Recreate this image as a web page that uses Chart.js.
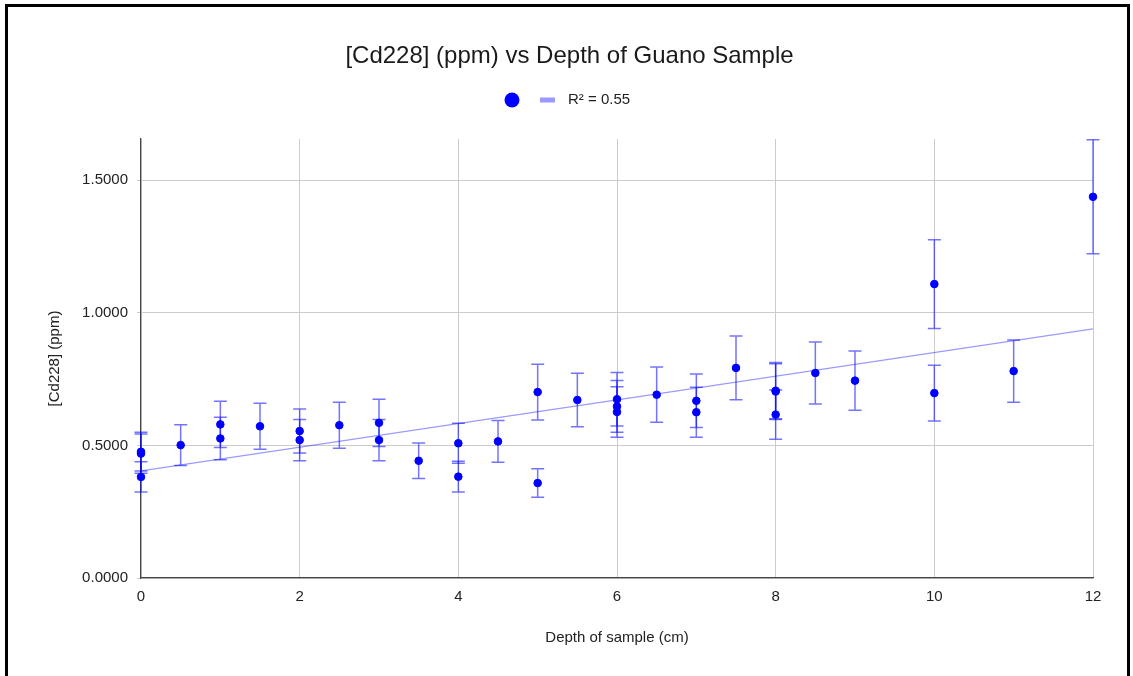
<!DOCTYPE html>
<html>
<head>
<meta charset="utf-8">
<script src="https://cdn.jsdelivr.net/npm/chart.js@4/dist/chart.umd.min.js"></script>
<style>
  body { margin: 0; background: #fff; }
  #marco { position: absolute; left: 5px; top: 4px; width: 1125px; height: 700px; border: 3px solid #000; box-sizing: border-box; }
  #grafico { position: absolute; left: 0; top: 0; }
</style>
</head>
<body>
<div id="marco"></div>
<canvas id="grafico" width="1133" height="676"></canvas>
<script>
// datos
const profundidad = [0, 0, 0, 0.5, 1, 1, 1.5, 2, 2, 2.5, 3, 3, 3.5, 4, 4, 4.5, 5, 5, 5.5, 6, 6, 6, 6.5, 7, 7, 7.5, 8, 8, 8, 8.5, 9, 10, 10, 11, 12];
const cadmio = [0.476, 0.469, 0.381, 0.501, 0.579, 0.526, 0.572, 0.554, 0.520, 0.576, 0.585, 0.520, 0.442, 0.508, 0.382, 0.515, 0.701, 0.358, 0.671, 0.674, 0.647, 0.626, 0.691, 0.668, 0.625, 0.792, 0.706, 0.703, 0.616, 0.773, 0.744, 1.108, 0.697, 0.780, 1.437];
const errores = [0.073, 0.074, 0.057, 0.077, 0.087, 0.080, 0.087, 0.083, 0.078, 0.087, 0.089, 0.078, 0.067, 0.075, 0.058, 0.079, 0.105, 0.054, 0.101, 0.101, 0.098, 0.095, 0.104, 0.101, 0.094, 0.120, 0.106, 0.105, 0.093, 0.117, 0.112, 0.167, 0.105, 0.117, 0.215];

// linea de tendencia (extremos)
const tendenciaX = [0, 12];
const tendenciaY = [0.404, 0.939];
const etiquetaR2 = "R² = 0.55";

const ticksY = [0, 0.5, 1.0, 1.5];

const fuente = "'Liberation Sans', Arial, sans-serif";
const azul = "#0000ff";
const azulClaro = "rgba(0,0,255,0.4)";

// barras de error
const barrasError = {
    id: "barrasError",
    beforeDatasetsDraw(chart) {
        const { ctx, scales: { x, y } } = chart;
        ctx.save();
        ctx.strokeStyle = "rgba(0,0,255,0.55)";
        ctx.lineWidth = 1.5;
        for (let i = 0; i < profundidad.length; i++) {
            const px = x.getPixelForValue(profundidad[i]);
            const arriba = y.getPixelForValue(cadmio[i] + errores[i]);
            const abajo = y.getPixelForValue(cadmio[i] - errores[i]);
            ctx.beginPath();
            ctx.moveTo(px, arriba); ctx.lineTo(px, abajo);
            ctx.moveTo(px - 6.5, arriba); ctx.lineTo(px + 6.5, arriba);
            ctx.moveTo(px - 6.5, abajo); ctx.lineTo(px + 6.5, abajo);
            ctx.stroke();
        }
        ctx.restore();
    }
};

// leyenda simple como en Sheets
const leyenda = {
    id: "leyenda",
    afterDraw(chart) {
        const ctx = chart.ctx;
        ctx.save();
        ctx.fillStyle = azul;
        ctx.beginPath();
        ctx.arc(512, 100, 7.5, 0, Math.PI * 2);
        ctx.fill();
        ctx.fillStyle = "rgba(0,0,255,0.4)";
        ctx.fillRect(540, 97.5, 15, 5);
        ctx.fillStyle = "#222";
        ctx.font = "15px " + fuente;
        ctx.textBaseline = "middle";
        ctx.fillText(etiquetaR2, 568, 100);
        ctx.restore();
    }
};

const grafico = new Chart(document.getElementById("grafico").getContext("2d"), {
    type: "scatter",
    data: {
        datasets: [
            {
                label: "",
                data: profundidad.map((p, i) => ({ x: p, y: cadmio[i] })),
                backgroundColor: azul,
                borderColor: azul,
                pointRadius: 3.8,
                pointHoverRadius: 3.8,
                clip: false
            },
            {
                type: "line",
                label: etiquetaR2,
                data: tendenciaX.map((p, i) => ({ x: p, y: tendenciaY[i] })),
                borderColor: azulClaro,
                borderWidth: 1.2,
                pointRadius: 0,
                fill: false
            }
        ]
    },
    options: {
        responsive: false,
        animation: false,
        layout: { padding: { left: 46, right: 40, top: 0, bottom: 29 } },
        plugins: {
            legend: { display: false },
            tooltip: { enabled: false },
            title: {
                display: true,
                text: "[Cd228] (ppm) vs Depth of Guano Sample",
                color: "#1a1a1a",
                font: { family: fuente, size: 24, weight: "normal" },
                padding: { top: 42, bottom: 68.2 }
            }
        },
        scales: {
            x: {
                type: "linear",
                min: 0,
                max: 12,
                ticks: { stepSize: 2, color: "#222", padding: 10, font: { family: fuente, size: 15 } },
                grid: { color: "#cccccc", drawTicks: false },
                border: { color: "#444", width: 1.2 },
                title: { display: true, text: "Depth of sample (cm)", color: "#222", padding: 0, font: { family: fuente, size: 15 } },
                afterFit(s) { s.height = 69; }
            },
            y: {
                min: 0,
                max: 1.655,
                afterBuildTicks(s) { s.ticks = ticksY.map(v => ({ value: v })); },
                ticks: { color: "#222", padding: 9, font: { family: fuente, size: 15 }, callback: v => v.toFixed(4) },
                grid: { color: "#cccccc", tickLength: 4 },
                border: { color: "#444", width: 1.2 },
                title: { display: true, text: "[Cd228] (ppm)", color: "#222", padding: 0, font: { family: fuente, size: 15 } },
                afterFit(s) { s.width = 95; }
            }
        }
    },
    plugins: [barrasError, leyenda]
});
</script>
</body>
</html>
